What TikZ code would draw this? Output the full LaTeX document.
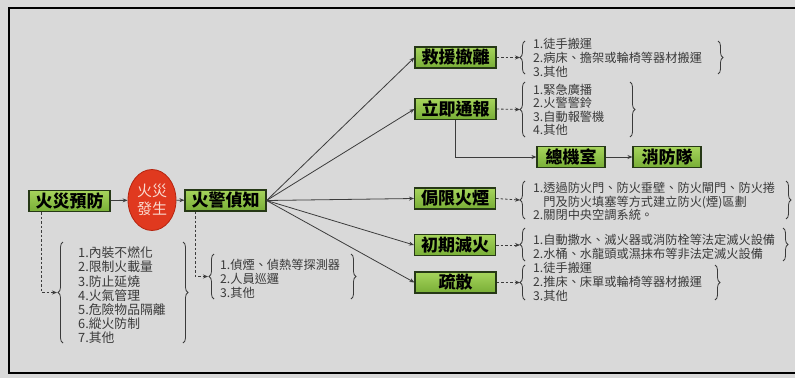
\documentclass[tikz,border=0pt]{standalone}
\usepackage{fontspec}
\setmainfont{Noto Sans CJK TC}
\usetikzlibrary{arrows.meta,decorations.pathreplacing,shapes.geometric,calc}
\definecolor{bg}{HTML}{D9D9D9}
\definecolor{gtop}{HTML}{A6D45C}
\definecolor{gbot}{HTML}{78AE36}
\definecolor{gedge}{HTML}{263816}
\definecolor{fire}{HTML}{E0391F}
\definecolor{fireedge}{HTML}{B5240F}
\definecolor{firetext}{HTML}{FAD9CF}
\definecolor{ink}{HTML}{3A3A3A}
\definecolor{lnk}{HTML}{3C3C3C}
\begin{document}
\begin{tikzpicture}[x=1pt,y=-1pt,
  gbox/.style={draw=gedge,line width=1.1pt,top color=gtop,bottom color=gbot,
    font=\fontsize{17}{19}\selectfont\bfseries,text=black,
    minimum width=81pt,minimum height=21pt,inner sep=0pt},
  firenode/.style={ellipse,draw=fireedge,line width=0.8pt,fill=fire,
    minimum width=48pt,minimum height=61pt,inner sep=0pt,align=center,
    text=firetext,font=\fontsize{15}{17.5}\selectfont},
  listtext/.style={anchor=west,align=left,inner sep=0pt,text=ink,
    font=\fontsize{12.2}{13.8}\selectfont},
  bigtext/.style={anchor=west,align=left,inner sep=0pt,text=ink,
    font=\fontsize{12.8}{14.2}\selectfont},
  arr/.style={draw=lnk,line width=0.8pt,-{Stealth[length=5pt,width=4pt]}},
  darr/.style={draw=lnk,line width=0.8pt,dash pattern=on 2.5pt off 2pt,-{Stealth[length=5pt,width=4pt]}},
  bracel/.style={draw=ink,line width=0.8pt,decorate,decoration={brace,amplitude=5pt}},
]
\useasboundingbox (0,0) rectangle (795,378);
\fill[bg] (0,0) rectangle (795,378);
\draw[black,line width=2.6pt] (810,8) -- (9,8) -- (9,373) -- (810,373);

% main chain
\node[gbox] (prev) at (69.5,201) {火災預防};
\node[firenode] (fire) at (152,200) {火災\\發生};
\node[gbox] (detect) at (225.5,200.5) {火警偵知};
\draw[arr] (prev) -- (fire);
\draw[arr] (fire) -- (detect);

% right column
\node[gbox] (rescue) at (455.5,57.5) {救援撤離};
\node[gbox] (notify) at (455.5,109) {立即通報};
\node[gbox,minimum width=68pt] (center) at (571,157) {總機室};
\node[gbox,minimum width=68pt] (firedept) at (667,157) {消防隊};
\node[gbox] (contain) at (455,198.5) {侷限火煙};
\node[gbox] (extinguish) at (455,245) {初期滅火};
\node[gbox] (evac) at (455.5,282.5) {疏散};

\foreach \t in {rescue,notify,contain,extinguish,evac}
  \draw[arr] (detect.east) -- (\t.west);
\draw[arr] (notify.south) |- (center.west);
\draw[arr] (center) -- (firedept);

% list: prevention
\node[bigtext] (l1) at (78,295.5) {1.內裝不燃化\\2.限制火載量\\3.防止延燒\\4.火氣管理\\5.危險物品隔離\\6.縱火防制\\7.其他};
\draw[bracel] (63,343) -- (63,242);
\draw[bracel] (183,242) -- (183,343);
\coordinate (t1) at (57,292.5);
\draw[darr] ($(prev.south west)+(13,0)$) |- (t1);

% list: detection
\node[listtext] (l2) at (220,279) {1.偵煙、偵熱等探測器\\2.人員巡邏\\3.其他};
\draw[bracel] (214,299) -- (214,254);
\draw[bracel] (351,254) -- (351,299);
\coordinate (t2) at (208,276.5);
\draw[darr] ($(detect.south west)+(11,0)$) |- (t2);

% list: rescue
\node[listtext] (l3) at (533,58) {1.徒手搬運\\2.病床、擔架或輪椅等器材搬運\\3.其他};
\draw[bracel] (525,74) -- (525,41);
\draw[bracel] (718,41) -- (718,74);
\coordinate (t3) at (520,57.5);
\draw[darr] (rescue.east) -- (t3);

% list: notify
\node[listtext,font=\fontsize{12.2}{13.4}\selectfont] (l4) at (533,110) {1.緊急廣播\\2.火警警鈴\\3.自動報警機\\4.其他};
\draw[bracel] (525,137) -- (525,82);
\draw[bracel] (630,82) -- (630,137);
\coordinate (t4) at (520,109.5);
\draw[darr] (notify.east) -- (t4);

% list: contain
\node[listtext,font=\fontsize{12.2}{13.5}\selectfont] (l5) at (533,201.5) {1.透過防火門、防火垂壁、防火閘門、防火捲\\\hphantom{1.}門及防火填塞等方式建立防火(煙)區劃\\2.關閉中央空調系統。};
\draw[bracel] (525,219) -- (525,181);
\draw[bracel] (786,181) -- (786,219);
\coordinate (t5) at (520,200);
\draw[darr] (contain.east) -- (t5);

% list: extinguish
\node[listtext] (l6) at (533,246.5) {1.自動撒水、滅火器或消防栓等法定滅火設備\\2.水桶、水龍頭或濕抹布等非法定滅火設備};
\draw[bracel] (525,261) -- (525,228);
\draw[bracel] (783,228) -- (783,261);
\coordinate (t6) at (520,245);
\draw[darr] (extinguish.east) -- (t6);

% list: evacuation
\node[listtext] (l7) at (533,282) {1.徒手搬運\\2.推床、床單或輪椅等器材搬運\\3.其他};
\draw[bracel] (525,300) -- (525,265);
\draw[bracel] (715,265) -- (715,300);
\coordinate (t7) at (520,282.5);
\draw[darr] (evac.east) -- (t7);
\end{tikzpicture}
\end{document}
